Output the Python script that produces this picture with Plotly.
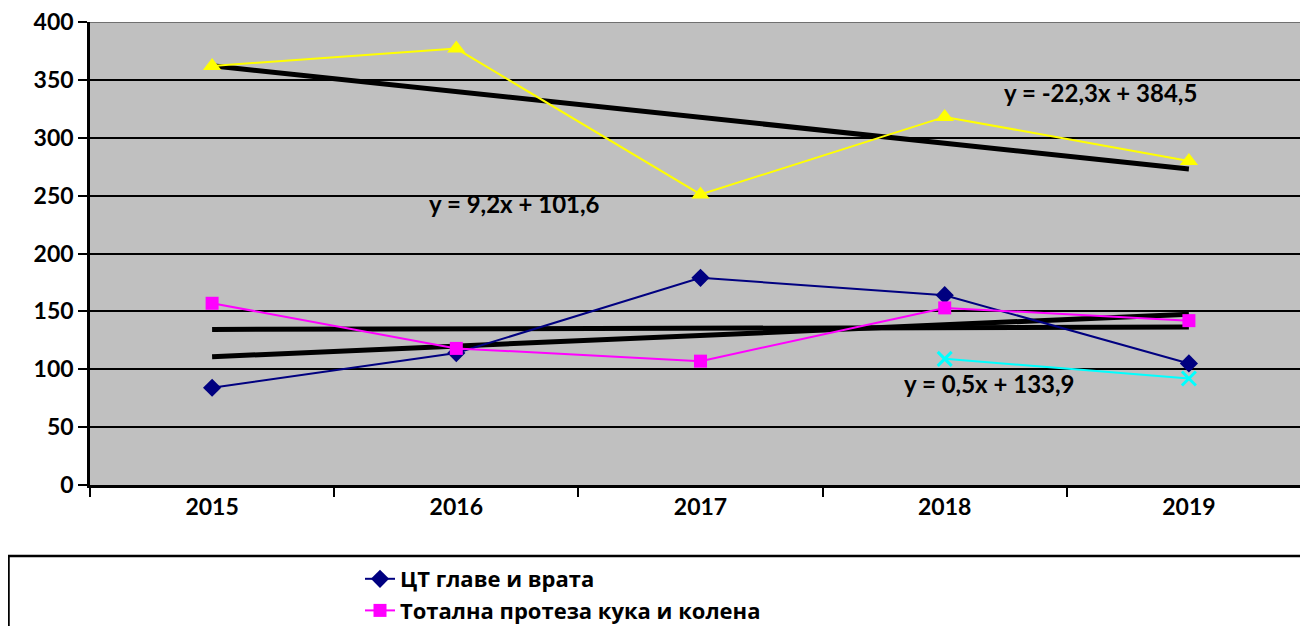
import numpy as np
import plotly.graph_objects as go

years = ["2015", "2016", "2017", "2018", "2019"]
ct_head_neck = [84, 114, 179, 164, 105]
hip_knee = [157, 118, 107, 153, 142]
cataract = [362, 377, 251, 318, 280]
fourth_years = ["2018", "2019"]
fourth = [109, 92]

names = [
    "ЦТ главе и врата",
    "Тотална протеза кука и колена",
    "Екстракција катаракте и уградња имплантата",
    "Остало",
]
eq_labels = ["y = -22,3x + 384,5", "y = 9,2x + 101,6", "y = 0,5x + 133,9"]

NUM_FONT = "Lato"
LEG_FONT = "'Open Sans', sans-serif"

# figure-space geometry (page has an 8px body margin)
W, H = 1300, 618
L, T, B = 82, 14, 141
PW, PH = W - L, H - T - B

fig = go.Figure()

# trendlines (linear least squares, x = 1..5)
xs = np.arange(1, len(years) + 1)
for series in (ct_head_neck, hip_knee, cataract):
    k, b = np.polyfit(xs, series, 1)
    fig.add_trace(go.Scatter(
        x=years, y=list(k * xs + b), mode="lines",
        line=dict(color="black", width=5), showlegend=False, hoverinfo="skip"))

fig.add_trace(go.Scatter(
    x=years, y=ct_head_neck, name=names[0], mode="lines+markers",
    line=dict(color="#000080", width=2),
    marker=dict(symbol="diamond", size=14, color="#000080")))
fig.add_trace(go.Scatter(
    x=years, y=hip_knee, name=names[1], mode="lines+markers",
    line=dict(color="#FF00FF", width=2),
    marker=dict(symbol="square", size=13, color="#FF00FF")))
fig.add_trace(go.Scatter(
    x=years, y=cataract, name=names[2], mode="lines+markers",
    line=dict(color="#FFFF00", width=2),
    marker=dict(symbol="triangle-up", size=16, color="#FFFF00")))
fig.add_trace(go.Scatter(
    x=fourth_years, y=fourth, name=names[3], mode="lines+markers",
    line=dict(color="#00FFFF", width=2),
    marker=dict(symbol="x-thin", size=14, color="#00FFFF",
                line=dict(color="#00FFFF", width=3))))

ann_pos = [(3.636, 338.7), (1.24, 243.6), (3.185, 87.3)]
for (ax_, ay_), txt in zip(ann_pos, eq_labels):
    fig.add_annotation(x=ax_, y=ay_, xref="x", yref="y", text="<b>%s</b>" % txt,
                       showarrow=False, font=dict(family=NUM_FONT, size=24, color="black"))

# top border of plot area (gray)
fig.add_shape(type="line", xref="paper", yref="y", x0=0, x1=1, y0=400, y1=400,
              line=dict(color="#707070", width=2), layer="above")
# legend frame
fig.add_shape(type="rect", xref="paper", yref="paper",
              x0=(0.5 - L) / PW, x1=1.05, y0=-0.6, y1=(PH - 548 + T) / PH,
              line=dict(color="black", width=2.5), fillcolor="rgba(0,0,0,0)")

fig.update_layout(
    width=W, height=H,
    margin=dict(l=L, r=0, t=T, b=B, autoexpand=False),
    paper_bgcolor="white", plot_bgcolor="#C0C0C0",
    showlegend=True,
    legend=dict(x=(352 - L) / PW, y=(T + PH - 550) / PH, xanchor="left", yanchor="top",
                bgcolor="rgba(0,0,0,0)", borderwidth=0, tracegroupgap=0,
                font=dict(family=LEG_FONT, size=22, color="black", weight="bold")),
    xaxis=dict(type="category", categoryorder="array", categoryarray=years,
               range=[-0.5, 4.5 - 3 / 244.4], tickson="boundaries",
               ticks="outside", ticklen=9, tickwidth=2, tickcolor="black",
               showline=True, linecolor="black", linewidth=2.5, showgrid=False,
               ticklabeloverflow="allow",
               tickfont=dict(family=NUM_FONT, size=23, color="black", weight="bold"),
               zeroline=False),
    yaxis=dict(range=[0, 400], tickvals=list(range(0, 401, 50)),
               ticks="outside", ticklen=9, tickwidth=2, tickcolor="black",
               showline=True, linecolor="black", linewidth=2.5,
               ticklabeloverflow="allow",
               showgrid=True, gridcolor="black", gridwidth=1.5, zeroline=False,
               tickfont=dict(family=NUM_FONT, size=23, color="black", weight="bold")),
)

fig.write_html("out.html")
